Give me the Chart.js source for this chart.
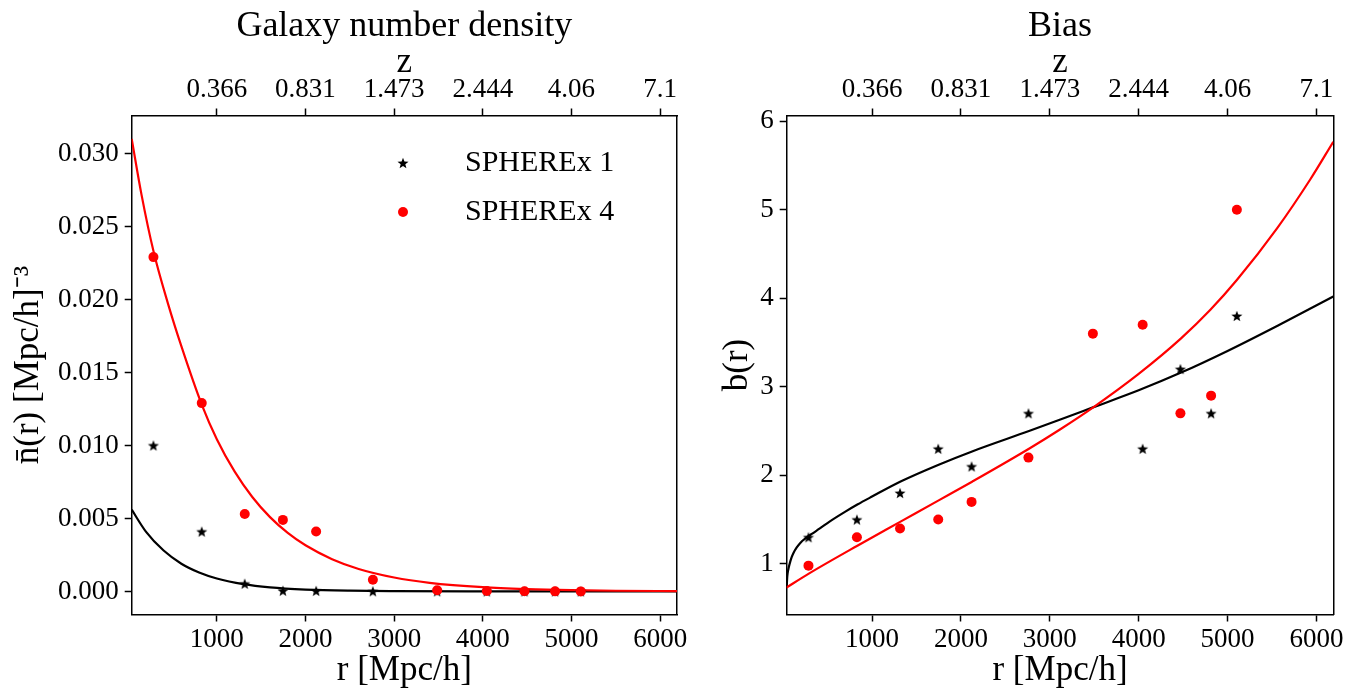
<!DOCTYPE html>
<html lang="en">
  <head>
    <meta charset="utf-8" />
    <title>SPHEREx galaxy number density and bias</title>
    <style>
      * {
        margin: 0;
        padding: 0;
      }
      body {
        width: 1354px;
        height: 692px;
        background: #fff;
        position: relative;
        overflow: hidden;
      }
      .chartBox {
        position: absolute;
        top: 0;
      }
      #leftBox {
        left: 0;
      }
      #rightBox {
        left: 700px;
      }
    </style>
  </head>
  <body>
    <div class="chartBox" id="leftBox">
      <canvas id="densityChart" width="700" height="692"></canvas>
    </div>
    <div class="chartBox" id="rightBox">
      <canvas id="biasChart" width="654" height="692"></canvas>
    </div>

    <script src="https://cdn.jsdelivr.net/npm/chart.js"></script>

    <script>
      // data block
      const rBins = [285, 830, 1315, 1745, 2120, 2760, 3485, 4045, 4470, 4815, 5105];
      const rTicks = [1000, 2000, 3000, 4000, 5000, 6000];
      const zTickLabels = ["0.366", "0.831", "1.473", "2.444", "4.06", "7.1"];

      const nbarSpherex1 = [0.0100, 0.0041, 0.00053, 0.00005, 0.00004, 0.00001, 0.000005, 0, 0, 0, 0];
      const nbarSpherex4 = [0.0229, 0.0129, 0.0053, 0.0049, 0.0041, 0.0008, 0.00008, 0.00003, 0.00001, 0.000005, 0.000002];

      const biasSpherex1 = [1.3, 1.5, 1.8, 2.3, 2.1, 2.7, null, 2.3, 3.2, 2.7, 3.8];
      const biasSpherex4 = [0.98, 1.3, 1.4, 1.5, 1.7, 2.2, 3.6, 3.7, 2.7, 2.9, 5.0];

      // fitted curves
      const fitNbarR1 = [40, 200, 400, 600, 800, 1000, 1300, 1600, 2000, 2500, 3000, 4000, 5000, 6190];
      const fitNbar1 = [0.0056, 0.0041, 0.0028, 0.0019, 0.0013, 0.00089, 0.0005, 0.00028, 0.00013, 0.00005, 0.00002, 0.000003, 0.0000005, 0];
      const fitNbarR4 = [40, 150, 286, 450, 600, 830, 1000, 1200, 1400, 1600, 1800, 2000, 2300, 2600, 3000, 3400, 4000, 4500, 5000, 5500, 6190];
      const fitNbar4 = [0.0310, 0.0272, 0.0233, 0.0197, 0.0168, 0.0128, 0.01043, 0.00822, 0.00647, 0.00509, 0.00401, 0.00316, 0.00221, 0.00154, 0.000955, 0.000592, 0.000289, 0.000159, 0.000087, 0.000048, 0.000021];

      const fitBiasR1 = [40, 46, 51, 63, 80, 96, 119, 153, 198, 255, 322, 413, 526, 700, 835, 1000, 1321, 1750, 2126, 2766, 3119, 3493, 4000, 4477, 5000, 5563, 6190];
      const fitBias1 = [0.74, 0.852, 0.898, 0.96, 1.025, 1.075, 1.128, 1.185, 1.242, 1.29, 1.338, 1.40, 1.48, 1.59, 1.67, 1.76, 1.93, 2.12, 2.27, 2.50, 2.63, 2.77, 2.96, 3.16, 3.405, 3.69, 4.02];
      const fitBiasR4 = [34, 289, 835, 1321, 1750, 2126, 2766, 3119, 3493, 4000, 4477, 4807, 5107, 5557, 5932, 6190];
      const fitBias4 = [0.73, 0.89, 1.205, 1.477, 1.717, 1.928, 2.30, 2.52, 2.77, 3.145, 3.546, 3.869, 4.208, 4.789, 5.344, 5.767];

      const FONT = "'Liberation Serif', 'Times New Roman', serif";
      const X_MIN = 40;
      const X_MAX = 6190;

      const pts = (xs, ys) => xs.map((x, i) => ({ x, y: ys[i] }));

      // filled five-pointed star, chart.js 'star' is only an asterisk
      function makeStar(r) {
        const size = Math.ceil(r * 2 + 2);
        const c = document.createElement("canvas");
        c.width = size;
        c.height = size;
        const g = c.getContext("2d");
        g.fillStyle = "#000";
        g.beginPath();
        for (let i = 0; i < 10; i++) {
          const a = -Math.PI / 2 + (i * Math.PI) / 5;
          const rr = i % 2 ? r * 0.42 : r;
          g.lineTo(size / 2 + rr * Math.cos(a), size / 2 + rr * Math.sin(a) + r * 0.1);
        }
        g.closePath();
        g.fill();
        return c;
      }
      const starMarker = makeStar(5.8);

      // legend drawn inside the plot area
      const insideLegend = {
        id: "insideLegend",
        afterDraw(chart, args, opts) {
          if (!opts.items) return;
          const { ctx, chartArea } = chart;
          ctx.save();
          ctx.font = "30px " + FONT;
          ctx.textAlign = "left";
          ctx.textBaseline = "middle";
          opts.items.forEach((item, i) => {
            const y = chartArea.top + opts.top + i * opts.gap;
            const mx = chartArea.right - opts.markerFromRight;
            if (item.star) {
              ctx.drawImage(starMarker, mx - starMarker.width / 2, y - starMarker.height / 2);
            } else {
              ctx.beginPath();
              ctx.fillStyle = item.color;
              ctx.arc(mx, y, 5, 0, Math.PI * 2);
              ctx.fill();
            }
            ctx.fillStyle = "#000";
            ctx.fillText(item.text, chartArea.right - opts.textFromRight, y);
          });
          ctx.restore();
        },
      };

      const gridOpts = (ticks) => ({
        drawOnChartArea: false,
        drawTicks: ticks,
        tickLength: 7,
        tickWidth: 1.5,
        tickColor: "#000",
      });
      const borderOpts = { color: "#000", width: 1.5 };
      const tickFont = { family: FONT, size: 27 };
      const titleFont = { family: FONT, size: 35 };

      // fixed r ticks, and no label overhang padding
      const fixRTicks = (s) => {
        s.ticks = rTicks.map((v) => ({ value: v }));
      };
      const fitX = (h) => (s) => {
        s.height = h;
        s.paddingLeft = 0;
        s.paddingRight = 0;
      };

      function buildScales(o) {
        return {
          x: {
            type: "linear",
            position: "bottom",
            min: X_MIN,
            max: X_MAX,
            afterBuildTicks: fixRTicks,
            ticks: {
              autoSkip: false,
              maxRotation: 0,
              padding: 2,
              color: "#000",
              font: tickFont,
              callback: (v) => String(v),
            },
            grid: gridOpts(true),
            border: borderOpts,
            title: { display: true, text: "r [Mpc/h]", color: "#000", font: titleFont, padding: { top: 0, bottom: 0 } },
            afterFit: fitX(77.5),
          },
          x2: {
            type: "linear",
            position: "top",
            min: X_MIN,
            max: X_MAX,
            afterBuildTicks: fixRTicks,
            ticks: {
              autoSkip: false,
              maxRotation: 0,
              padding: 2,
              color: "#000",
              font: tickFont,
              callback: (v, i) => zTickLabels[i],
            },
            grid: gridOpts(true),
            border: borderOpts,
            title: {
              display: true,
              text: "z",
              color: "#000",
              font: { family: FONT, size: 35, lineHeight: 1 },
              padding: { top: 0, bottom: 0 },
            },
            afterFit: fitX(70.5),
          },
          y: {
            type: "linear",
            position: "left",
            min: o.yMin,
            max: o.yMax,
            ticks: {
              stepSize: o.yStep,
              includeBounds: false,
              autoSkip: false,
              padding: 6,
              color: "#000",
              font: tickFont,
              callback: o.yFormat,
            },
            grid: gridOpts(true),
            border: borderOpts,
            title: { display: true, text: o.yTitle, color: "#000", font: titleFont, padding: { top: o.yTitlePad } },
            afterFit: (s) => {
              s.width = o.leftWidth;
            },
          },
          yR: {
            type: "linear",
            position: "right",
            ticks: { display: false },
            grid: gridOpts(false),
            border: borderOpts,
            afterFit: (s) => {
              s.width = o.rightWidth;
            },
          },
        };
      }

      function buildDatasets(s1, s4, f1r, f1, f4r, f4) {
        return [
          {
            type: "scatter",
            label: "SPHEREx 4",
            data: pts(rBins, s4),
            pointStyle: "circle",
            pointRadius: 5,
            pointBackgroundColor: "#ff0000",
            pointBorderWidth: 0,
          },
          {
            type: "scatter",
            label: "SPHEREx 1",
            data: pts(rBins, s1),
            pointStyle: starMarker,
            pointRadius: 5.8,
            pointBorderWidth: 0,
          },
          {
            type: "line",
            label: "fit 4",
            data: pts(f4r, f4),
            borderColor: "#ff0000",
            borderWidth: 2.2,
            pointRadius: 0,
            cubicInterpolationMode: "monotone",
          },
          {
            type: "line",
            label: "fit 1",
            data: pts(f1r, f1),
            borderColor: "#000",
            borderWidth: 2.2,
            pointRadius: 0,
            cubicInterpolationMode: "monotone",
          },
        ];
      }

      function buildConfig(title, datasets, scaleOpts, legendOpts) {
        return {
          type: "scatter",
          data: { datasets },
          options: {
            responsive: false,
            animation: false,
            layout: { padding: 0 },
            plugins: {
              legend: { display: false },
              tooltip: { enabled: false },
              title: {
                display: true,
                text: title,
                fullSize: false,
                color: "#000",
                font: { family: FONT, size: 36, weight: "normal", lineHeight: 1 },
                padding: { top: 9, bottom: 0 },
              },
              insideLegend: legendOpts,
            },
            scales: buildScales(scaleOpts),
          },
          plugins: [insideLegend],
        };
      }

      // init render block
      new Chart(
        document.getElementById("densityChart"),
        buildConfig(
          "Galaxy number density",
          buildDatasets(nbarSpherex1, nbarSpherex4, fitNbarR1, fitNbar1, fitNbarR4, fitNbar4),
          {
            yMin: -0.00158,
            yMax: 0.0326,
            yStep: 0.005,
            yFormat: (v) => v.toFixed(3),
            yTitle: "n\u0304(r) [Mpc/h]\u207B\u00B3",
            yTitlePad: 8,
            leftWidth: 131.7,
            rightWidth: 23,
          },
          {
            items: [
              { star: true, text: "SPHEREx 1" },
              { color: "#ff0000", text: "SPHEREx 4" },
            ],
            top: 47.5,
            gap: 49,
            markerFromRight: 274,
            textFromRight: 212,
          }
        )
      );

      new Chart(
        document.getElementById("biasChart"),
        buildConfig(
          "Bias",
          buildDatasets(biasSpherex1, biasSpherex4, fitBiasR1, fitBias1, fitBiasR4, fitBias4),
          {
            yMin: 0.428,
            yMax: 6.064,
            yStep: 1,
            yFormat: (v) => String(v),
            yTitle: "b(r)",
            yTitlePad: 17,
            leftWidth: 86.7,
            rightWidth: 20.7,
          },
          {}
        )
      );
    </script>
  </body>
</html>
